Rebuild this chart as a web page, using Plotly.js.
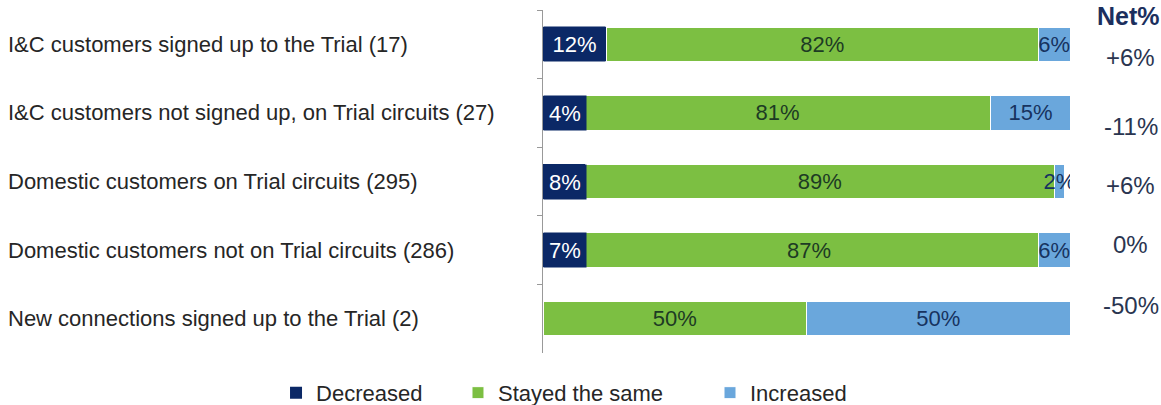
<!DOCTYPE html>
<html><head><meta charset="utf-8">
<script src="https://cdn.plot.ly/plotly-3.0.1.min.js"></script>
<style>body{margin:0;background:#fff}#c{width:1161px;height:405px}</style>
</head><body><div id="c"></div>
<script>
const categories = [
  "I&C customers signed up to the Trial (17)",
  "I&C customers not signed up, on Trial circuits (27)",
  "Domestic customers on Trial circuits (295)",
  "Domestic customers not on Trial circuits (286)",
  "New connections signed up to the Trial (2)"
];
const decreased = [12, 4, 8, 7, 0];
const stayed = [82, 81, 89, 87, 50];
const increased = [6, 15, 2, 6, 50];
const netLabels = ["+6%", "-11%", "+6%", "0%", "-50%"];
const seriesNames = ["Decreased", "Stayed the same", "Increased"];

const FONT = "Liberation Sans, Arial, sans-serif";
const cols = ["#0b2866", "#7cbf42", "#6aa7dc"];
const pct = a => a.map(v => v ? v + "%" : "");
const BARFONT = 22;
const PLOT_W = 1161 - 543 - 91;

const traces = [
  {type:"bar", orientation:"h", name:seriesNames[0], y:categories, x:decreased, legend:"legend",
   marker:{color:cols[0], line:{color:"#ffffff", width:0}}, textposition:"none", hoverinfo:"skip"},
  {type:"bar", orientation:"h", name:seriesNames[1], y:categories, x:stayed, legend:"legend2",
   marker:{color:cols[1], line:{color:"#ffffff", width:1}}, text:pct(stayed), textposition:"inside", textangle:0,
   insidetextanchor:"middle", constraintext:"none", textfont:{family:FONT, size:BARFONT, color:"#1d3b24"}, hoverinfo:"skip"},
  {type:"bar", orientation:"h", name:seriesNames[2], y:categories, x:increased, legend:"legend3",
   marker:{color:cols[2], line:{color:"#ffffff", width:1}}, text:pct(increased), textposition:"inside", textangle:0,
   insidetextanchor:"middle", constraintext:"none", textfont:{family:FONT, size:BARFONT, color:"#17335f"}, hoverinfo:"skip"}
];

const ann = [];
categories.forEach((c, i) => {
  ann.push({xref:"paper", yref:"y", x:-1.019, y:c, xanchor:"left", yanchor:"middle", showarrow:false,
    text:c, font:{family:FONT, size:22, color:"#262626"}});
  if (decreased[i]) ann.push({xref:"x", yref:"y", x:0, y:c, xanchor:"left", yanchor:"middle", showarrow:false,
    text:pct(decreased)[i], bgcolor:cols[0], height:34, borderpad:0, align:"center",
    width:Math.max(42, decreased[i] / 100 * PLOT_W - 2),
    font:{family:FONT, size:BARFONT, color:"#ffffff"}});
});
const netShift = [-13, -14, -4, 6, 13];
netLabels.forEach((t, i) => {
  ann.push({xref:"paper", yref:"y", x:1.115, y:categories[i], xanchor:"center", yanchor:"middle", showarrow:false,
    yshift:netShift[i], text:t, font:{family:FONT, size:24, color:"#2a3550"}});
});
ann.push({xref:"paper", yref:"paper", x:1.175, y:1.0, xanchor:"right", yanchor:"top", yshift:10, showarrow:false,
  text:"<b>Net%</b>", font:{family:FONT, size:25, color:"#1b2f5e"}});

const legBase = {orientation:"h", xanchor:"left", yref:"container", y:0.03, yanchor:"middle",
  font:{family:FONT, size:22, color:"#262626"}, itemwidth:30, bgcolor:"rgba(0,0,0,0)"};

const layout = {
  width:1161, height:405, barmode:"stack", bargap:0.5,
  margin:{l:543, r:91, t:10, b:52, autoexpand:false},
  paper_bgcolor:"#fff", plot_bgcolor:"#fff",
  font:{family:FONT, size:17, color:"#222"},
  xaxis:{range:[0,100], visible:false, fixedrange:true},
  yaxis:{type:"category", autorange:"reversed", showticklabels:false, ticks:"outside", ticklen:5,
    tickson:"boundaries", tickcolor:"#999", showline:true, linecolor:"#999", linewidth:1,
    showgrid:false, zeroline:false},
  showlegend:true,
  legend:Object.assign({}, legBase, {x:-0.5066}),
  legend2:Object.assign({}, legBase, {x:-0.1613}),
  legend3:Object.assign({}, legBase, {x:0.3169}),
  annotations:ann
};
Plotly.newPlot("c", traces, layout, {displayModeBar:false, staticPlot:true});
</script></body></html>
